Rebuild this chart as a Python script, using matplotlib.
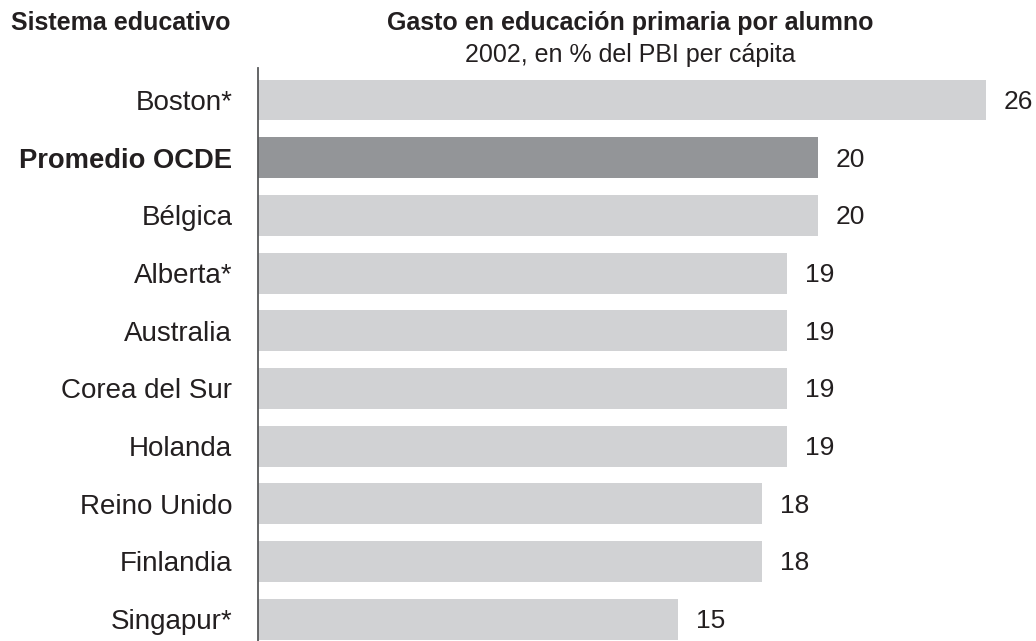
import matplotlib
matplotlib.use('Agg')
import matplotlib.pyplot as plt

# Data
sistemas = ['Boston*', 'Promedio OCDE', 'Bélgica', 'Alberta*', 'Australia',
            'Corea del Sur', 'Holanda', 'Reino Unido', 'Finlandia', 'Singapur*']
gasto = [26.0, 20.0, 20.0, 18.9, 18.9, 18.9, 18.9, 18.0, 18.0, 15.0]
etiquetas = ['26', '20', '20', '19', '19', '19', '19', '18', '18', '15']
destacado = 'Promedio OCDE'

plt.rcParams['font.family'] = ['Liberation Sans', 'DejaVu Sans']
text_color = '#231f20'
light = '#d1d2d4'
dark = '#939598'

fig = plt.figure(figsize=(10.36, 6.41), dpi=100)
ax = fig.add_axes([258 / 1036, 0.0, 1 - 258 / 1036, 573 / 641])

y = list(range(len(sistemas)))
colors = [dark if s == destacado else light for s in sistemas]
ax.barh(y, gasto, height=0.71, color=colors, left=0)

# Value labels at the end of each bar
for yi, val, lab in zip(y, gasto, etiquetas):
    ax.annotate(lab, xy=(val, yi), xytext=(18, -2), textcoords='offset pixels',
                va='center', ha='left', fontsize=19, color=text_color)

ax.set_xlim(0, 27.8)
ax.set_ylim(len(sistemas) - 1 + 0.38, -0.555)

ax.set_yticks(y)
ax.set_yticklabels(sistemas, fontsize=20, color=text_color)
for lbl in ax.get_yticklabels():
    if lbl.get_text() == destacado:
        lbl.set_fontweight('bold')
        lbl.set_fontsize(19.7)
ax.tick_params(axis='y', length=0, pad=18.5)
ax.set_xticks([])

for side in ['top', 'right', 'bottom']:
    ax.spines[side].set_visible(False)
ax.spines['left'].set_color('#58595b')
ax.spines['left'].set_linewidth(1.3)

# Headers
fig.text(11 / 1036, 1 - 23 / 641, 'Sistema educativo', fontsize=18,
         fontweight='bold', color=text_color, ha='left', va='center')
fig.text(630 / 1036, 1 - 23 / 641, 'Gasto en educación primaria por alumno',
         fontsize=18, fontweight='bold', color=text_color, ha='center', va='center')
fig.text(630 / 1036, 1 - 55 / 641, '2002, en % del PBI per cápita',
         fontsize=18, color=text_color, ha='center', va='center')

fig.savefig('out.png', dpi=100)
